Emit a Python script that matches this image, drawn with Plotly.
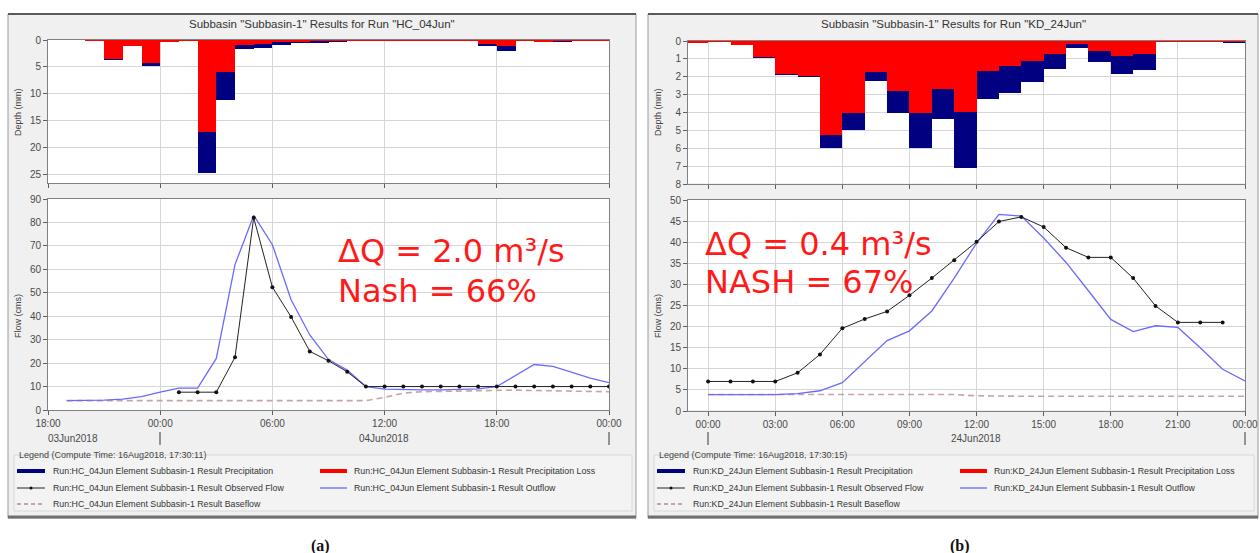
import plotly.graph_objects as go

W, H = 1260, 553

# ---------------- Panel (a) data : HC_04Jun ----------------
a_bar_start = ["2018-06-03 20:00", "2018-06-03 21:00", "2018-06-03 22:00", "2018-06-03 23:00",
               "2018-06-04 00:00", "2018-06-04 01:00", "2018-06-04 02:00", "2018-06-04 03:00",
               "2018-06-04 04:00", "2018-06-04 05:00", "2018-06-04 06:00", "2018-06-04 07:00",
               "2018-06-04 08:00", "2018-06-04 09:00", "2018-06-04 10:00", "2018-06-04 11:00",
               "2018-06-04 12:00", "2018-06-04 13:00", "2018-06-04 14:00", "2018-06-04 15:00",
               "2018-06-04 16:00", "2018-06-04 17:00", "2018-06-04 18:00", "2018-06-04 19:00",
               "2018-06-04 20:00", "2018-06-04 21:00", "2018-06-04 22:00", "2018-06-04 23:00"]
a_precip = [0.1, 3.7, 1.2, 4.9, 0.4, 0.15, 24.6, 11.2, 1.7, 1.4, 0.9, 0.6, 0.5, 0.2,
            0.06, 0.06, 0.06, 0.06, 0.06, 0.06, 0.06, 1.1, 2.1, 0.15, 0.35, 0.2, 0.06, 0.06]
a_loss = [0.1, 3.5, 1.15, 4.3, 0.4, 0.1, 17.0, 6.0, 0.9, 0.8, 0.4, 0.2, 0.15, 0.06,
          0.06, 0.06, 0.06, 0.06, 0.06, 0.06, 0.06, 0.7, 1.1, 0.06, 0.3, 0.06, 0.06, 0.06]

a_obs_time = ["2018-06-04 %02d:00" % h for h in range(1, 24)] + ["2018-06-05 00:00"]
a_observed = [7.6, 7.6, 7.6, 22.5, 82, 52.4, 39.7, 25, 21, 16.3, 10,
              10, 10, 10, 10, 10, 10, 10, 10, 10, 10, 10, 10, 10]

a_sim_time = ["2018-06-03 %02d:00" % h for h in range(19, 24)] + \
             ["2018-06-04 %02d:00" % h for h in range(0, 24)] + ["2018-06-05 00:00"]
a_outflow = [4.0, 4.0, 4.2, 4.6, 5.7, 7.6, 9.3, 9.3, 22, 62, 83, 70.5, 47, 32, 21.5, 17, 10,
             8.9, 8.6, 8.6, 8.6, 8.9, 9.0, 10, 14.7, 19.4, 18.6, 16, 13.6, 11.7]
a_baseflow = [4.0, 4.0, 4.0, 4.0, 4.0, 4.0, 4.0, 4.0, 4.0, 4.0, 4.0, 4.0, 4.0, 4.0, 4.0, 4.0, 4.0,
              5.4, 7.2, 7.8, 8.0, 8.2, 8.4, 8.6, 8.5, 8.3, 8.1, 8.0, 7.9, 7.8]

# ---------------- Panel (b) data : KD_24Jun ----------------
b_bar_start = ["2018-06-23 23:00"] + ["2018-06-24 %02d:00" % h for h in range(0, 24)]
b_precip = [0.12, 0.05, 0.25, 0.93, 1.9, 2.0, 6.0, 5.0, 2.25, 4.0, 6.0, 4.35, 7.1,
            3.25, 2.9, 2.3, 1.55, 0.38, 1.17, 1.83, 1.64, 0.05, 0.05, 0.05, 0.12]
b_loss = [0.12, 0.05, 0.25, 0.88, 1.85, 1.95, 5.25, 4.0, 1.75, 2.8, 4.0, 2.7, 3.95,
          1.7, 1.4, 1.13, 0.72, 0.19, 0.56, 0.85, 0.72, 0.05, 0.05, 0.05, 0.03]

b_obs_time = ["2018-06-24 %02d:00" % h for h in range(0, 24)]
b_observed = [7, 7, 7, 7, 9.05, 13.4, 19.6, 21.8, 23.6, 27.4, 31.5, 35.7, 40.1, 44.9,
              46, 43.6, 38.7, 36.4, 36.4, 31.5, 24.9, 21, 21, 21]

b_sim_time = ["2018-06-24 %02d:00" % h for h in range(0, 24)] + ["2018-06-25 00:00"]
b_outflow = [3.9, 3.9, 3.9, 3.9, 4.1, 4.8, 6.7, 11.7, 16.7, 19.0, 23.7, 31.5, 39.8, 46.6,
             46.2, 41, 35.2, 28.5, 21.7, 18.8, 20.2, 19.8, 15.0, 9.9, 7.1]
b_baseflow = [3.9] * 12 + [3.6] + [3.5] * 12

# ---------------- Text ----------------
a_title = 'Subbasin "Subbasin-1" Results for Run "HC_04Jun"'
b_title = 'Subbasin "Subbasin-1" Results for Run "KD_24Jun"'
a_run, b_run = "Run:HC_04Jun", "Run:KD_24Jun"
a_compute = "Legend (Compute Time: 16Aug2018, 17:30:11)"
b_compute = "Legend (Compute Time: 16Aug2018, 17:30:15)"
a_stats = ["ΔQ = 2.0 m³/s", "Nash = 66%"]
b_stats = ["ΔQ = 0.4 m³/s", "NASH = 67%"]

# ---------------- Colours ----------------
NAVY, RED = "#000080", "#ff0000"
BLUE, BASE = "#6a6aff", "#c9a3a3"
HOUR = 3600000


def fx(x):
    return x / W


def fy(y):
    return 1 - y / H


fig = go.Figure()


def add_panel(n_top, n_bot, bar_start, precip, loss, obs_t, obs, sim_t, outflow, base):
    xa_t = "x" if n_top == 1 else "x%d" % n_top
    ya_t = "y" if n_top == 1 else "y%d" % n_top
    xa_b, ya_b = "x%d" % n_bot, "y%d" % n_bot
    fig.add_trace(go.Bar(x=bar_start, y=precip, offset=0, width=HOUR, marker_color=NAVY,
                         marker_line_width=0, xaxis=xa_t, yaxis=ya_t, showlegend=False))
    fig.add_trace(go.Bar(x=bar_start, y=loss, offset=0, width=HOUR, marker_color=RED,
                         marker_line_width=0, xaxis=xa_t, yaxis=ya_t, showlegend=False))
    fig.add_trace(go.Scatter(x=sim_t, y=base, mode="lines", line=dict(color=BASE, width=1.6, dash="6px,4px"),
                             xaxis=xa_b, yaxis=ya_b, showlegend=False))
    fig.add_trace(go.Scatter(x=sim_t, y=outflow, mode="lines", line=dict(color=BLUE, width=1.3),
                             xaxis=xa_b, yaxis=ya_b, showlegend=False))
    fig.add_trace(go.Scatter(x=obs_t, y=obs, mode="lines+markers", line=dict(color="#222222", width=1),
                             marker=dict(color="#111111", size=4), xaxis=xa_b, yaxis=ya_b, showlegend=False))


add_panel(1, 2, a_bar_start, a_precip, a_loss, a_obs_time, a_observed, a_sim_time, a_outflow, a_baseflow)
add_panel(3, 4, b_bar_start, b_precip, b_loss, b_obs_time, b_observed, b_sim_time, b_outflow, b_baseflow)

tickfont = dict(family="Liberation Sans, Arial", size=10, color="#4a4a4a")
common = dict(showline=True, mirror=True, linecolor="#808080", linewidth=1, gridcolor="#d6d6d6",
              showgrid=True, zeroline=False, ticks="outside", ticklen=4, tickcolor="#606060",
              tickfont=tickfont, fixedrange=True, automargin=False)

a_xr = ["2018-06-03 18:00", "2018-06-05 00:00"]
b_xr = ["2018-06-23 23:06", "2018-06-25 00:00"]
xa_dom = [fx(48), fx(609)]
xb_dom = [fx(688), fx(1245)]
top_dom = [fy(183), fy(40)]

fig.update_layout(
    xaxis=dict(domain=xa_dom, type="date", range=a_xr, tick0=a_xr[0], dtick=6 * HOUR,
               showticklabels=False, anchor="y", **common),
    yaxis=dict(domain=top_dom, range=[26.5, 0], tickvals=[0, 5, 10, 15, 20, 25], anchor="x", **common),
    xaxis2=dict(domain=xa_dom, type="date", range=a_xr, tick0=a_xr[0], dtick=6 * HOUR,
                tickformat="%H:%M", anchor="y2", **common),
    yaxis2=dict(domain=[fy(410), fy(199)], range=[0, 90], dtick=10, anchor="x2", **common),
    xaxis3=dict(domain=xb_dom, type="date", range=b_xr, tick0="2018-06-24 00:00", dtick=3 * HOUR,
                showticklabels=False, anchor="y3", **common),
    yaxis3=dict(domain=[fy(184), fy(41)], range=[8, 0], dtick=1, anchor="x3", **common),
    xaxis4=dict(domain=xb_dom, type="date", range=b_xr, tick0="2018-06-24 00:00", dtick=3 * HOUR,
                tickformat="%H:%M", anchor="y4", **common),
    yaxis4=dict(domain=[fy(411), fy(200)], range=[0, 50], dtick=5, anchor="x4", **common),
    barmode="overlay", bargap=0,
    width=W, height=H, margin=dict(l=0, r=0, t=0, b=0, autoexpand=False),
    paper_bgcolor="white", plot_bgcolor="white",
)

shapes = []
annotations = []


def rect(x0, y0, x1, y1, fill, line="rgba(0,0,0,0)", lw=0, layer="below"):
    shapes.append(dict(type="rect", xref="paper", yref="paper", x0=fx(x0), x1=fx(x1), y0=fy(y1), y1=fy(y0),
                       fillcolor=fill, line=dict(color=line, width=lw), layer=layer))


def hline(x0, x1, y, color, width, dash="solid"):
    shapes.append(dict(type="line", xref="paper", yref="paper", x0=fx(x0), x1=fx(x1), y0=fy(y), y1=fy(y),
                       line=dict(color=color, width=width, dash=dash)))


def vline(x, y0, y1, color, width):
    shapes.append(dict(type="line", xref="paper", yref="paper", x0=fx(x), x1=fx(x), y0=fy(y0), y1=fy(y1),
                       line=dict(color=color, width=width)))


def text(x, y, s, size=8.8, color="#333333", xanchor="left", family="Liberation Sans, Arial", angle=0):
    annotations.append(dict(x=fx(x), y=fy(y), xref="paper", yref="paper", text=s, showarrow=False,
                            xanchor=xanchor, yanchor="middle", textangle=angle,
                            font=dict(family=family, size=size, color=color)))


def panel(x0, x1, pa, pb_top, title, run, compute, stats, day_labels, day_marks):
    # frame
    rect(x0, 14, x1, 518, "#f0f0f0", "#9a9a9a", 1)
    hline(x0, x1, 14, "#5a5a5a", 2)
    hline(x0, x1, 517, "#707070", 3)
    # white plot areas
    rect(pa[0], 40, pa[1], 183, "white")
    rect(pa[0], pb_top, pa[1], 410, "white")
    # legend group box
    rect(x0 + 6, 455, x1 - 4, 511, "#f3f3f3", "#d8d8d8", 1)
    text((x0 + x1) / 2, 24, title, size=11.5, color="#333333", xanchor="center")
    text(pa[0] - 30, 112, "Depth (mm)", size=9, color="#444444", xanchor="center", angle=-90)
    text(pa[0] - 30, 316, "Flow (cms)", size=9, color="#444444", xanchor="center", angle=-90)
    for lab, lx in day_labels:
        text(lx, 439, lab, size=10, color="#4a4a4a", xanchor="center")
    for mx in day_marks:
        vline(mx, 432, 445, "#555555", 1.2)
    # legend content
    lx = x0 + 9
    cx = x0 + 312
    text(lx, 455, compute, size=9, color="#444444")
    hline(lx, lx + 28, 471, NAVY, 4)
    text(lx + 34, 471, run + " Element Subbasin-1 Result Precipitation")
    hline(cx, cx + 27, 471, RED, 4)
    text(cx + 32, 471, run + " Element Subbasin-1 Result Precipitation Loss")
    hline(lx, lx + 28, 488, "#222222", 1)
    shapes.append(dict(type="circle", xref="paper", yref="paper", x0=fx(lx + 12.5), x1=fx(lx + 15.5),
                       y0=fy(489.5), y1=fy(486.5), fillcolor="#111111", line=dict(width=0)))
    text(lx + 34, 488, run + " Element Subbasin-1 Result Observed Flow")
    hline(cx, cx + 27, 488, BLUE, 1.3)
    text(cx + 32, 488, run + " Element Subbasin-1 Result Outflow")
    hline(lx, lx + 28, 504, BASE, 1.8, dash="4px,3px")
    text(lx + 34, 504, run + " Element Subbasin-1 Result Baseflow")
    # statistics
    text(stats[0][0], stats[0][1], stats[0][2], size=32, color="#ff1a1a", family="DejaVu Sans")
    text(stats[1][0], stats[1][1], stats[1][2], size=32, color="#ff1a1a", family="DejaVu Sans")


panel(8, 636, (48, 609), 199, a_title, a_run, a_compute,
      [(336, 251, a_stats[0]), (336, 291, a_stats[1])],
      [("03Jun2018", 73), ("04Jun2018", 384)], [160, 609])
panel(648, 1258, (688, 1245), 200, b_title, b_run, b_compute,
      [(703, 244, b_stats[0]), (703, 282, b_stats[1])],
      [("24Jun2018", 976)], [708, 1245])

text(320, 546, "(a)", size=16, color="#111111", xanchor="center", family="Liberation Serif")
annotations[-1]["font"]["weight"] = "bold"
text(960, 546, "(b)", size=16, color="#111111", xanchor="center", family="Liberation Serif")
annotations[-1]["font"]["weight"] = "bold"

fig.update_layout(shapes=shapes, annotations=annotations)
fig.write_html("out.html")
